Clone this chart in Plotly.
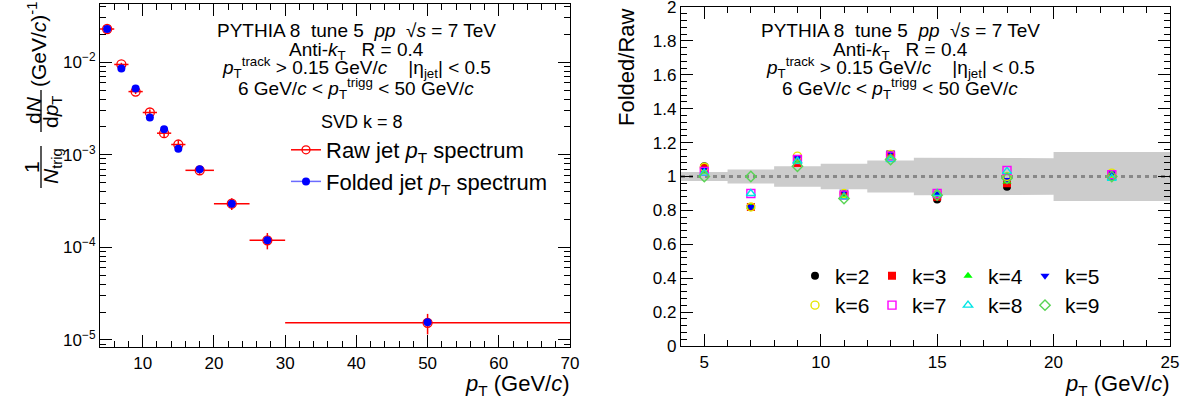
import plotly.graph_objects as go

W, H = 1188, 403
FONT = "Liberation Sans"

# ---------------- data: left panel ----------------
pt_center = [5, 7, 9, 11, 13, 15, 18, 22.5, 27.5, 50]
pt_halfwidth = [1, 1, 1, 1, 1, 1, 2, 2.5, 2.5, 20]
raw_spectrum = [0.0228, 0.00944, 0.00481, 0.00286, 0.00171, 0.00129, 0.000679, 0.000296, 0.000119, 1.53e-5]
raw_rel_err = [0.027, 0.042, 0.06, 0.075, 0.095, 0.11, 0.108, 0.145, 0.2, 0.25]
folded_spectrum = [0.0228, 0.00853, 0.00519, 0.00252, 0.00189, 0.00116, 0.000697, 0.000296, 0.000119, 1.55e-5]

# ---------------- data: right panel ----------------
ratio_pt = [5, 7, 9, 11, 13, 15, 18, 22.5]
ratio_k = {
    2: [1.06, 0.82, 1.10, 0.90, 1.13, 0.865, 0.94, 1.00],
    3: [1.05, 0.82, 1.08, 0.89, 1.13, 0.88, 0.96, 1.01],
    4: [1.03, 0.82, 1.09, 0.88, 1.11, 0.89, 0.97, 1.00],
    5: [1.045, 0.82, 1.11, 0.91, 1.14, 0.90, 0.98, 1.02],
    6: [1.055, 0.82, 1.12, 0.90, 1.13, 0.90, 1.00, 1.02],
    7: [1.03, 0.90, 1.10, 0.89, 1.12, 0.90, 1.035, 1.01],
    8: [1.02, 0.90, 1.09, 0.88, 1.10, 0.90, 1.03, 0.99],
    9: [1.00, 1.00, 1.06, 0.87, 1.10, 0.89, 0.99, 1.00],
}
band_edges = [4, 6, 8, 10, 12, 14, 16, 20, 25]
band_half = [0.027, 0.042, 0.06, 0.075, 0.095, 0.11, 0.108, 0.145]

k_style = {
    2: dict(symbol="circle", color="black"),
    3: dict(symbol="square", color="red"),
    4: dict(symbol="triangle-up", color="#00ff00"),
    5: dict(symbol="triangle-down", color="blue"),
    6: dict(symbol="circle-open", color="#e6e600"),
    7: dict(symbol="square-open", color="#ff00ff"),
    8: dict(symbol="triangle-up-open", color="#00e5e5"),
    9: dict(symbol="diamond-open", color="#59d454"),
}

def px(x):
    return x / W

def py(y):
    return 1 - y / H

fig = go.Figure()

# ---------------- left panel traces ----------------
fig.add_trace(go.Scatter(
    x=pt_center, y=raw_spectrum, mode="markers", xaxis="x", yaxis="y", showlegend=False,
    marker=dict(symbol="circle-open", color="red", size=9, line=dict(width=1.3, color="red")),
    error_x=dict(type="data", array=pt_halfwidth, color="red", thickness=1.5, width=0),
    error_y=dict(type="data", array=[v * e for v, e in zip(raw_spectrum, raw_rel_err)],
                 color="red", thickness=1.5, width=0),
))
fig.add_trace(go.Scatter(
    x=pt_center, y=folded_spectrum, mode="markers", xaxis="x", yaxis="y", showlegend=False,
    marker=dict(symbol="circle", color="blue", size=8),
))
# legend keys (line + marker), no data of their own
fig.add_trace(go.Scatter(
    x=[None], y=[None], mode="lines+markers", xaxis="x", yaxis="y",
    name="Raw jet <i>p</i><sub>T</sub> spectrum", legend="legend",
    marker=dict(symbol="circle-open", color="red", size=8, line=dict(width=1.3, color="red")),
    line=dict(color="red", width=1.5),
))
fig.add_trace(go.Scatter(
    x=[None], y=[None], mode="lines+markers", xaxis="x", yaxis="y",
    name="Folded jet <i>p</i><sub>T</sub> spectrum", legend="legend",
    marker=dict(symbol="circle", color="blue", size=8),
    line=dict(color="#6b6bff", width=1.5),
))

# ---------------- right panel traces ----------------
band_x, band_top, band_bot = [], [], []
for i in range(len(band_half)):
    band_x += [band_edges[i], band_edges[i + 1]]
    band_top += [1 + band_half[i]] * 2
    band_bot += [1 - band_half[i]] * 2
fig.add_trace(go.Scatter(
    x=band_x + band_x[::-1], y=band_top + band_bot[::-1], xaxis="x2", yaxis="y2",
    fill="toself", fillcolor="#cccccc", line=dict(width=0), mode="lines",
    showlegend=False, hoverinfo="skip",
))
fig.add_trace(go.Scatter(
    x=[band_edges[0], band_edges[-1]], y=[1, 1], xaxis="x2", yaxis="y2", mode="lines",
    line=dict(color="#888888", width=3, dash="4px,4px"), showlegend=False,
))

legend_col = [795, 872, 948, 1025]
legend_row = [276, 305.5]
for idx, k in enumerate(range(2, 10)):
    st = k_style[k]
    open_sym = st["symbol"].endswith("open")
    fig.add_trace(go.Scatter(
        x=ratio_pt, y=ratio_k[k], mode="markers", xaxis="x2", yaxis="y2",
        name=f"k={k}", legend=f"legend{idx + 2}",
        marker=dict(symbol=st["symbol"], color=st["color"], size=8,
                    line=dict(width=1.4 if open_sym else 0, color=st["color"])),
    ))

# ---------------- layout ----------------
tickfont = dict(family=FONT, size=17, color="black")
common = dict(showline=True, linecolor="black", linewidth=1.2, mirror="ticks",
              ticks="inside", ticklen=12, tickwidth=1, tickcolor="black",
              showgrid=False, zeroline=False, tickfont=tickfont, ticklabeloverflow="allow")

log_major = [1e-5, 1e-4, 1e-3, 1e-2]
log_minor = [m * d for d in [1e-6, 1e-5, 1e-4, 1e-3, 1e-2] for m in range(2, 10)]

layout = dict(
    width=W, height=H, margin=dict(l=0, r=0, t=0, b=0, autoexpand=False),
    paper_bgcolor="white", plot_bgcolor="white",
    font=dict(family=FONT, color="black"),
    xaxis=dict(domain=[px(100), px(570)], range=[4, 70], anchor="y",
               tickmode="linear", tick0=0, dtick=10,
               minor=dict(ticks="inside", ticklen=6, tickmode="linear", tick0=0, dtick=2, tickcolor="black"),
               **common),
    yaxis=dict(domain=[py(347), py(4)], type="log", range=[-5.076, -1.372], anchor="x",
               tickmode="array", tickvals=log_major,
               ticktext=["10<sup>\u22125</sup>", "10<sup>\u22124</sup>", "10<sup>\u22123</sup>", "10<sup>\u22122</sup>"],
               minor=dict(ticks="inside", ticklen=6, tickmode="array", tickvals=log_minor, tickcolor="black"),
               **common),
    xaxis2=dict(domain=[px(681), px(1170)], range=[4, 25], anchor="y2",
                tickmode="linear", tick0=0, dtick=5,
                minor=dict(ticks="inside", ticklen=6, tickmode="linear", tick0=0, dtick=1, tickcolor="black"),
                **common),
    yaxis2=dict(domain=[py(346), py(7)], range=[0, 2], anchor="x2",
                tickmode="array", tickvals=[0, 0.2, 0.4, 0.6, 0.8, 1, 1.2, 1.4, 1.6, 1.8, 2],
                ticktext=["0", "0.2", "0.4", "0.6", "0.8", "1", "1.2", "1.4", "1.6", "1.8", "2"],
                minor=dict(ticks="inside", ticklen=6, tickmode="linear", tick0=0, dtick=0.04, tickcolor="black"),
                **common),
    legend=dict(x=px(286), y=py(129), xanchor="left", yanchor="top",
                bgcolor="rgba(0,0,0,0)", font=dict(family=FONT, size=22),
                itemwidth=30, tracegroupgap=0),
)
for idx, k in enumerate(range(2, 10)):
    lx = legend_col[idx % 4]
    ly = legend_row[idx // 4]
    layout[f"legend{idx + 2}"] = dict(x=px(lx), y=py(ly), xanchor="left", yanchor="middle",
                                       bgcolor="rgba(0,0,0,0)", font=dict(family=FONT, size=21),
                                       itemwidth=30)
fig.update_layout(**layout)

# ---------------- text ----------------
ann = []
def text(x, y, s, size=19, xanchor="center", angle=0):
    ann.append(dict(x=px(x), y=py(y), xref="paper", yref="paper", text=s, showarrow=False,
                    xanchor=xanchor, yanchor="middle", textangle=angle,
                    font=dict(family=FONT, size=size, color="black")))

for cx in (356, 900):
    text(cx, 31, "PYTHIA 8  tune 5  <i>pp</i>  \u221a<i>s</i> = 7 TeV")
    text(cx, 51, "Anti-<i>k</i><sub>T</sub>   R = 0.4")
    text(cx, 67, "<i>p</i><sub>T</sub><sup>track</sup> > 0.15 GeV/<i>c</i>    |\u03b7<sub>jet</sub>| < 0.5")
    text(cx, 89, "6 GeV/<i>c</i> < <i>p</i><sub>T</sub><sup>trigg</sup> < 50 GeV/<i>c</i>")
text(362, 122, "SVD k = 8", size=18)

# axis titles
text(572, 385, "<i>p</i><sub>T</sub> (GeV/<i>c</i>)", size=22, xanchor="right")
text(1172, 385, "<i>p</i><sub>T</sub> (GeV/<i>c</i>)", size=22, xanchor="right")
text(626, 67, "Folded/Raw", size=22, angle=-90)
# left y title (fraction pieces)
text(31, 167, "1", size=21, angle=-90)
text(52, 166, "<i>N</i><sub>trig</sub>", size=21, angle=-90)
text(33, 110, "d<i>N</i>", size=21, angle=-90)
text(52, 112, "d<i>p</i><sub>T</sub>", size=21, angle=-90)
text(37, 45, "(GeV/<i>c</i>)<sup>-1</sup>", size=21, angle=-90)

fig.update_layout(annotations=ann, shapes=[
    dict(type="line", xref="paper", yref="paper", x0=px(41), x1=px(41), y0=py(146), y1=py(188),
         line=dict(color="black", width=1.3)),
    dict(type="line", xref="paper", yref="paper", x0=px(41), x1=px(41), y0=py(90), y1=py(132),
         line=dict(color="black", width=1.3)),
])

# remove the default page margin while the page is parsed (before it is measured)
sync = ("document.documentElement.style.margin='0px';document.documentElement.style.overflow='hidden';"
        "document.body.style.margin='0px';document.body.style.overflow='hidden';")

fig.write_html(
    "out.html",
    config={"displayModeBar": False},
    post_script="}); " + sync + " (function(){",
)
